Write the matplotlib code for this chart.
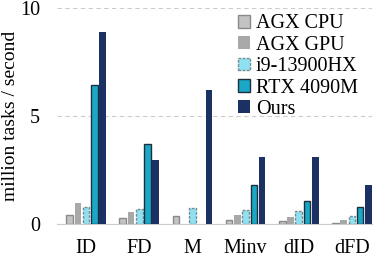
import numpy as np
import matplotlib.pyplot as plt

tasks = ["ID", "FD", "M", "Minv", "dID", "dFD"]
agx_cpu = [0.42, 0.28, 0.38, 0.19, 0.12, 0.06]
agx_gpu = [0.97, 0.55, 0.0, 0.42, 0.32, 0.19]
i9 = [0.78, 0.71, 0.73, 0.65, 0.60, 0.38]
rtx = [6.43, 3.70, 0.0, 1.80, 1.06, 0.78]
ours = [8.88, 2.97, 6.20, 3.10, 3.10, 1.80]

plt.rcParams["font.family"] = "Liberation Serif"
plt.rcParams["font.size"] = 14.5

fig = plt.figure(figsize=(3.74, 2.58), dpi=100)
ax = fig.add_axes([0.152, 0.132, 0.843, 0.838])

x = np.arange(len(tasks))
w = 0.125
pitch = 0.155
styles = [
    ("AGX CPU", agx_cpu, dict(color="#c3c3c3", edgecolor="#8a8a8a", linewidth=1.0)),
    ("AGX GPU", agx_gpu, dict(color="#a8a8a8", edgecolor="none")),
    ("i9-13900HX", i9, dict(color="#8fe1f2", edgecolor="#7a8a90", linewidth=1.0, linestyle=(0, (2, 1)))),
    ("RTX 4090M", rtx, dict(color="#1aa8c6", edgecolor="#1d2e3c", linewidth=1.0)),
    ("Ours", ours, dict(color="#1c3163", edgecolor="none")),
]
for i, (name, vals, kw) in enumerate(styles):
    h = [v if v > 0 else np.nan for v in vals]
    ax.bar(x + (i - 2) * pitch, h, w, label=name, zorder=3, **kw)

ax.set_ylim(0, 10)
ax.set_xlim(-0.55, 5.38)
ax.set_yticks([0, 5, 10])
ax.set_xticks(x)
ax.set_xticklabels(tasks)
ax.tick_params(axis="x", length=0, pad=10.5)
ax.tick_params(axis="y", length=0, pad=12)
ax.set_ylabel("million tasks / second", fontsize=14)
ax.yaxis.set_label_coords(-0.12, 0.5)
ax.yaxis.grid(True, color="#cccccc", linestyle=(0, (4, 3)), linewidth=0.8)
for s in ["top", "right", "left"]:
    ax.spines[s].set_visible(False)
ax.spines["bottom"].set_color("#cccccc")

ax.legend(loc="upper right", bbox_to_anchor=(1.0, 1.035), frameon=False,
          handlelength=0.6, handleheight=0.6, handletextpad=0.3,
          labelspacing=0.12, borderpad=0.2)

fig.savefig("out.png", dpi=100)
